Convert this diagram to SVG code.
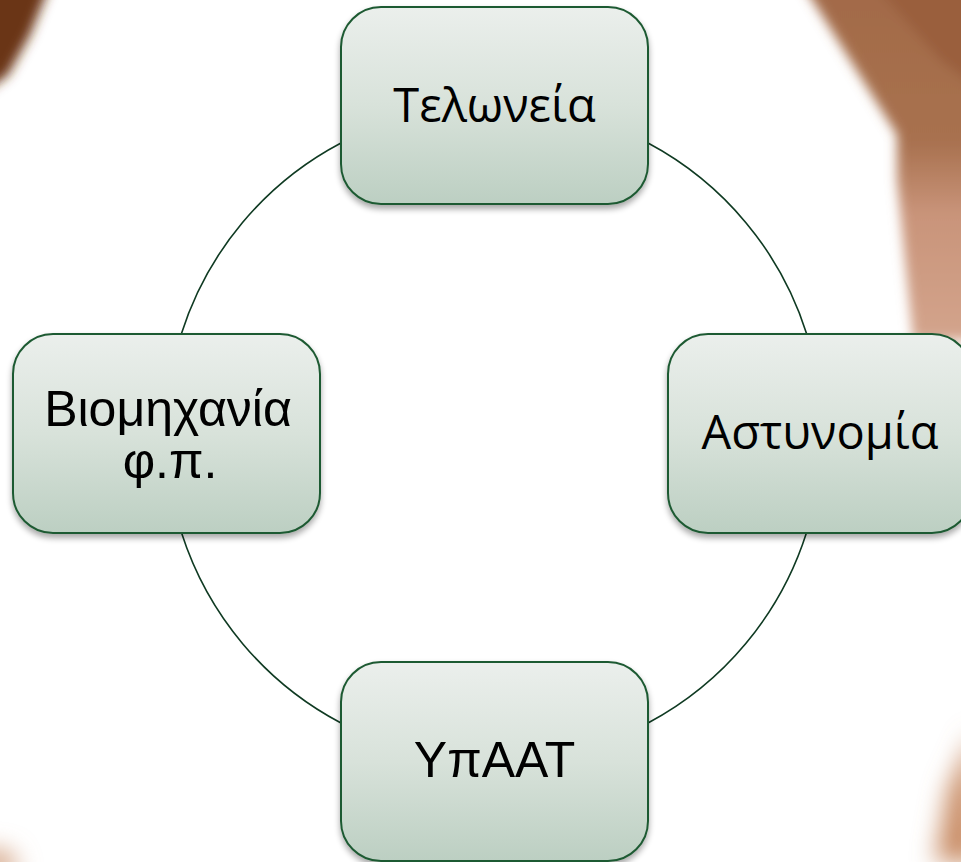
<svg xmlns="http://www.w3.org/2000/svg" width="961" height="862" viewBox="0 0 961 862">
  <defs>
    <linearGradient id="boxFill" x1="0" y1="0" x2="0" y2="1">
      <stop offset="0" stop-color="#ebefec"/>
      <stop offset="0.5" stop-color="#d8e2da"/>
      <stop offset="1" stop-color="#bccfc2"/>
    </linearGradient>
    <linearGradient id="photoR" x1="0" y1="0" x2="0" y2="1">
      <stop offset="0" stop-color="#a26a47"/>
      <stop offset="0.45" stop-color="#a8714f"/>
      <stop offset="0.65" stop-color="#c9947a"/>
      <stop offset="1" stop-color="#d3a48c"/>
    </linearGradient>
    <filter id="shadow" x="-10%" y="-10%" width="120%" height="130%">
      <feGaussianBlur in="SourceAlpha" stdDeviation="3"/>
      <feOffset dx="0" dy="4" result="b"/>
      <feComponentTransfer><feFuncA type="linear" slope="0.35"/></feComponentTransfer>
      <feMerge><feMergeNode/><feMergeNode in="SourceGraphic"/></feMerge>
    </filter>
    <filter id="blur" x="-50%" y="-50%" width="200%" height="200%">
      <feGaussianBlur stdDeviation="6"/>
    </filter>
    <filter id="blur2" x="-50%" y="-50%" width="200%" height="200%">
      <feGaussianBlur stdDeviation="12"/>
    </filter>
  </defs>
  <style>
    .box { fill: url(#boxFill); stroke: #1f5a33; stroke-width: 2; filter: url(#shadow); }
    .lbl { font-family: "Liberation Sans", Arial, sans-serif; font-size: 50px; fill: #000; text-anchor: middle; }
    .lbl2 { font-family: "Open Sans", "Noto Sans", sans-serif; font-size: 47px; fill: #000; text-anchor: middle; }
    .arc { fill: none; stroke: #0f3a22; stroke-width: 1.6; }
  </style>

  <!-- background photo remnants -->
  <g id="background">
    <rect x="0" y="0" width="961" height="862" fill="#ffffff"/>
    <g filter="url(#blur)">
      <polygon points="-20,-20 52,-20 30,35 8,75 -20,95" fill="#6a3512"/>
      <polygon points="800,-20 980,-20 980,340 913,340 905,260 897,180 897,135" fill="url(#photoR)"/>
      <polygon points="870,-20 980,-20 980,90 940,60" fill="#9a5f3e"/>
    </g>
    <g filter="url(#blur2)">
      <polygon points="935,862 948,790 975,730 980,862" fill="#c98d66"/>
      <polygon points="-20,848 10,852 20,875 -20,875" fill="#d2a080"/>
    </g>
  </g>

  <g id="connectors">
    <path class="arc" d="M648,143 A328,328 0 0 1 806.7,334"/>
    <path class="arc" d="M806.4,533 A328,328 0 0 1 648,723"/>
    <path class="arc" d="M341,723 A328,328 0 0 1 181.6,533"/>
    <path class="arc" d="M181.3,334 A328,328 0 0 1 341,143"/>
  </g>

  <g id="node-telonia">
    <rect class="box" x="341" y="7" width="307" height="197" rx="40" ry="40"/>
    <text class="lbl2" x="494.5" y="122">Τελωνεία</text>
  </g>
  <g id="node-astynomia">
    <rect class="box" x="668" y="334" width="304" height="199" rx="40" ry="40"/>
    <text class="lbl2" x="820" y="449">Αστυνομία</text>
  </g>
  <g id="node-viomixania">
    <rect class="box" x="13" y="334" width="307" height="199" rx="40" ry="40"/>
    <text class="lbl" x="168" y="426">Βιομηχανία</text>
    <text class="lbl" x="170" y="478">φ.π.</text>
  </g>
  <g id="node-ypaat">
    <rect class="box" x="341" y="662" width="307" height="199" rx="40" ry="40"/>
    <text class="lbl" x="494.5" y="777">ΥπΑΑΤ</text>
  </g>
</svg>
